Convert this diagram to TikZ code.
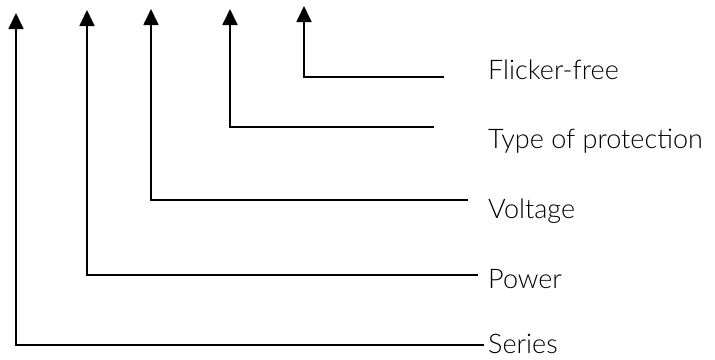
\documentclass[tikz,border=0pt]{standalone}
\usepackage{fontspec}
\setmainfont{Lato}[UprightFont=* Light]
\usetikzlibrary{arrows.meta}
\tikzset{%
  lead/.style  = {line width=1.8pt, -{Triangle[width=15pt,length=16pt]}},%
  label/.style = {anchor=base west, inner sep=0pt, font=\fontsize{27}{30}\selectfont}%
}

\begin{document}
\begin{tikzpicture}[x=1pt,y=-1pt]
  \useasboundingbox (0,0) rectangle (715,359);
  % arrow tips
  \coordinate (series tip)  at (16,13);
  \coordinate (power tip)   at (87,10);
  \coordinate (voltage tip) at (151,9);
  \coordinate (type tip)    at (230,9);
  \coordinate (flicker tip) at (304,6);
  % ends of the horizontal lines
  \coordinate (series end)  at (484,345);
  \coordinate (power end)   at (478,275);
  \coordinate (voltage end) at (468,200);
  \coordinate (type end)    at (434,127);
  \coordinate (flicker end) at (444,77);
  % labels
  \node [label] (series)  at (488,353) {Series};
  \node [label] (power)   at (488,288) {Power};
  \node [label] (voltage) at (488,218) {Voltage};
  \node [label] (type)    at (488,148) {Type of protection};
  \node [label] (flicker) at (488,79)  {Flicker-free};
  % leads
  \draw [lead] (series end)  -| (series tip);
  \draw [lead] (power end)   -| (power tip);
  \draw [lead] (voltage end) -| (voltage tip);
  \draw [lead] (type end)    -| (type tip);
  \draw [lead] (flicker end) -| (flicker tip);
\end{tikzpicture}
\end{document}
